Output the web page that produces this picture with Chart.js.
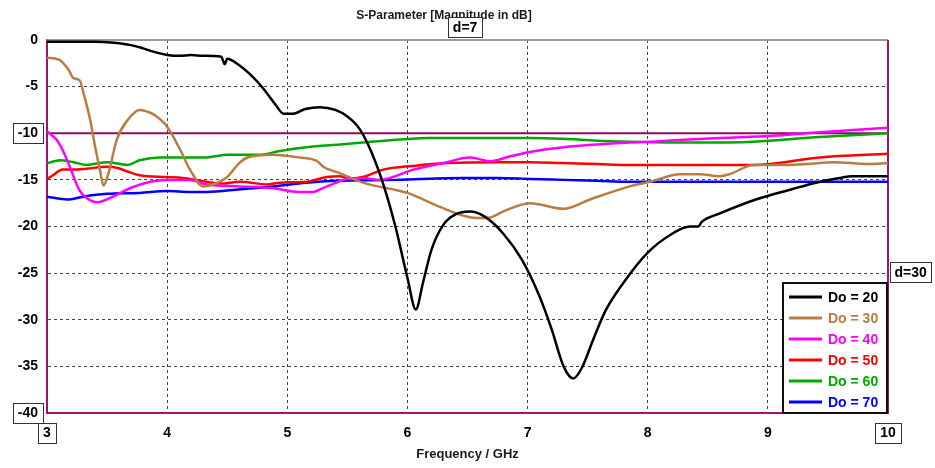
<!DOCTYPE html>
<html>
<head>
<meta charset="utf-8">
<title>S-Parameter</title>
<script src="https://cdn.jsdelivr.net/npm/chart.js"></script>
<style>
  html, body { margin: 0; padding: 0; background: #fff; }
  #sparam { display: block; }
</style>
</head>
<body>
<canvas id="sparam" width="935" height="468"></canvas>
<script>
// sweep results, |S11| in dB for each Do
const labels = ['Do = 20', 'Do = 30', 'Do = 40', 'Do = 50', 'Do = 60', 'Do = 70'];
const colors = ['#000000', '#b97d41', '#ff00ff', '#ff0000', '#00a800', '#0000ff'];

const freq20 = [3.0, 3.4, 3.5, 3.6, 3.7, 3.8, 3.9, 4.0, 4.1, 4.2, 4.3, 4.45, 4.48, 4.5, 4.6, 4.7, 4.8, 4.9, 4.97, 5.05, 5.15, 5.27, 5.4, 5.5, 5.6, 5.7, 5.8, 5.9, 6.0, 6.07, 6.13, 6.2, 6.3, 6.4, 6.52, 6.65, 6.8, 6.95, 7.1, 7.2, 7.3, 7.38, 7.45, 7.55, 7.65, 7.8, 8.0, 8.2, 8.35, 8.42, 8.45, 8.6, 8.9, 9.2, 9.4, 9.6, 9.7, 10.0];
const s20 = [-0.2, -0.2, -0.25, -0.35, -0.55, -0.9, -1.3, -1.6, -1.7, -1.6, -1.7, -1.8, -2.6, -2.0, -2.7, -3.8, -5.2, -6.9, -7.9, -7.9, -7.4, -7.2, -7.5, -8.2, -9.5, -12.0, -15.5, -20.0, -25.5, -28.9, -26.0, -22.5, -19.8, -18.7, -18.4, -19.0, -20.8, -23.5, -27.5, -31.0, -35.0, -36.3, -35.2, -32.0, -29.0, -26.0, -22.8, -20.8, -20.0, -20.0, -19.5, -18.6, -17.1, -16.0, -15.3, -14.8, -14.6, -14.6];

const freq30 = [3.0, 3.1, 3.18, 3.22, 3.27, 3.31, 3.36, 3.4, 3.44, 3.47, 3.52, 3.58, 3.67, 3.77, 3.86, 3.9, 4.0, 4.11, 4.19, 4.3, 4.38, 4.5, 4.6, 4.67, 4.88, 5.1, 5.25, 5.3, 5.44, 5.63, 6.0, 6.27, 6.52, 6.66, 6.83, 7.02, 7.3, 7.52, 7.85, 8.02, 8.27, 8.43, 8.6, 8.68, 8.88, 9.16, 9.33, 9.55, 9.83, 10.0];
const s30 = [-1.9, -2.1, -3.2, -4.1, -4.3, -6.0, -8.6, -11.4, -13.9, -15.6, -13.9, -10.7, -8.6, -7.5, -7.8, -8.1, -9.3, -11.8, -13.9, -15.7, -15.5, -14.7, -13.2, -12.6, -12.3, -12.6, -13.0, -13.6, -14.3, -15.3, -16.4, -17.9, -19.0, -19.1, -18.2, -17.5, -18.1, -17.1, -15.7, -15.2, -14.4, -14.4, -14.6, -14.4, -13.4, -13.4, -13.3, -13.1, -13.3, -13.2];

const freq40 = [3.0, 3.08, 3.13, 3.19, 3.27, 3.36, 3.42, 3.55, 3.69, 3.86, 4.0, 4.19, 4.33, 4.61, 4.88, 5.1, 5.21, 5.33, 5.5, 5.63, 5.77, 6.05, 6.3, 6.52, 6.69, 6.85, 7.02, 7.3, 7.58, 7.85, 8.04, 8.3, 8.6, 9.02, 9.43, 10.0];
const s40 = [-9.8, -10.7, -11.8, -13.6, -16.1, -17.2, -17.4, -16.8, -15.9, -15.2, -15.0, -15.0, -15.5, -15.7, -15.9, -16.3, -16.3, -15.7, -14.9, -14.8, -15.0, -13.9, -13.2, -12.6, -13.0, -12.5, -12.0, -11.5, -11.2, -11.0, -10.9, -10.7, -10.5, -10.3, -9.9, -9.4];

const freq50 = [3.0, 3.05, 3.13, 3.22, 3.33, 3.5, 3.58, 3.67, 3.77, 4.0, 4.13, 4.33, 4.44, 4.61, 4.83, 4.94, 5.16, 5.33, 5.44, 5.52, 5.63, 5.8, 6.05, 6.33, 6.75, 7.02, 7.3, 7.58, 7.85, 8.5, 8.88, 9.43, 10.0];
const s50 = [-14.9, -14.5, -13.9, -13.9, -13.8, -13.6, -13.7, -14.1, -14.5, -14.7, -14.8, -15.2, -15.4, -15.2, -15.5, -15.3, -15.2, -14.7, -14.6, -14.9, -14.7, -13.9, -13.5, -13.2, -13.1, -13.1, -13.2, -13.3, -13.4, -13.4, -13.4, -12.6, -12.2];

const freq60 = [3.0, 3.11, 3.22, 3.33, 3.5, 3.67, 3.77, 3.94, 4.19, 4.33, 4.5, 4.77, 4.94, 5.16, 5.44, 5.63, 5.91, 6.19, 7.02, 7.3, 7.58, 7.85, 8.38, 8.88, 9.43, 10.0];
const s60 = [-13.2, -12.9, -13.1, -13.4, -13.1, -13.4, -12.9, -12.6, -12.6, -12.6, -12.3, -12.3, -11.9, -11.5, -11.2, -11.0, -10.7, -10.5, -10.5, -10.6, -10.8, -10.9, -11.0, -10.9, -10.4, -10.0];

const freq70 = [3.0, 3.17, 3.3, 3.5, 3.77, 4.0, 4.19, 4.33, 4.61, 4.88, 5.16, 5.4, 5.91, 6.46, 6.75, 7.02, 7.3, 7.58, 7.85, 10.0];
const s70 = [-16.8, -17.1, -16.8, -16.5, -16.4, -16.2, -16.3, -16.3, -16.0, -15.7, -15.3, -15.1, -15.0, -14.8, -14.8, -14.9, -15.0, -15.1, -15.2, -15.2];

const freqs = [freq20, freq30, freq40, freq50, freq60, freq70];
const values = [s20, s30, s40, s50, s60, s70];

const refLevel = -10;               // -10 dB limit line
const xTicks = [3, 4, 5, 6, 7, 8, 9, 10];
const yTicks = [0, -5, -10, -15, -20, -25, -30, -35, -40];
const boxedX = [3, 10];
const boxedY = [-10, -40];
const markerText = ['d=7', 'd=30'];
const markerAt = [6.48, -24.85];     // x value for d=7, y value for d=30

const FONT = "'Liberation Sans', Arial, sans-serif";
const AXIS = '#a8106e';

function pts(f, v) {
  return f.map((x, i) => ({ x: x, y: v[i] }));
}

const datasets = labels.map((lab, i) => ({
  label: lab,
  data: pts(freqs[i], values[i]),
  borderColor: colors[i],
  borderWidth: 2.5,
  pointRadius: 0,
  fill: false,
  cubicInterpolationMode: 'monotone'
}));

// limit line goes under the curves
datasets.push({
  label: 'limit',
  data: [{ x: 3, y: refLevel }, { x: 10, y: refLevel }],
  borderColor: '#8f0a5f',
  borderWidth: 2,
  pointRadius: 0,
  fill: false,
  order: 10
});

// frame: grey top edge, purple right edge
const framePlugin = {
  id: 'frame',
  beforeDatasetsDraw(chart) {
    const a = chart.chartArea, c = chart.ctx;
    c.save();
    c.lineWidth = 2;
    c.strokeStyle = '#9a9a9a';
    c.beginPath(); c.moveTo(a.left, a.top); c.lineTo(a.right, a.top); c.stroke();
    c.strokeStyle = AXIS;
    c.beginPath(); c.moveTo(a.right, a.top); c.lineTo(a.right, a.bottom); c.stroke();
    c.restore();
  }
};

function boxText(c, txt, cx, cy, fill) {
  c.font = 'bold 14px ' + FONT;
  const w = c.measureText(txt).width + 9;
  const h = 20;
  if (fill) { c.fillStyle = '#fff'; c.fillRect(cx - w / 2, cy - h / 2, w, h); }
  c.strokeStyle = '#333';
  c.lineWidth = 1;
  c.strokeRect(Math.round(cx - w / 2) + 0.5, Math.round(cy - h / 2) + 0.5, Math.round(w), h);
  if (fill) {
    c.fillStyle = '#000';
    c.textAlign = 'center';
    c.textBaseline = 'middle';
    c.fillText(txt, cx, cy + 1);
  }
}

// boxed tick labels, marker tags and the legend panel
const extrasPlugin = {
  id: 'extras',
  afterDraw(chart) {
    const c = chart.ctx, a = chart.chartArea;
    const xs = chart.scales.x, ys = chart.scales.y;
    c.save();
    c.font = 'bold 14px ' + FONT;
    boxedY.forEach(v => {
      const y = ys.getPixelForValue(v);
      const w = c.measureText(String(v)).width;
      c.strokeStyle = '#333'; c.lineWidth = 1;
      c.strokeRect(Math.round(a.left - 9 - w - 5) + 0.5, Math.round(y - 10) + 0.5, Math.round(w + 10), 20);
    });
    boxedX.forEach(v => {
      const x = xs.getPixelForValue(v);
      const w = c.measureText(String(v)).width;
      c.strokeStyle = '#333'; c.lineWidth = 1;
      c.strokeRect(Math.round(x - w / 2 - 5) + 0.5, Math.round(a.bottom + 10) + 0.5, Math.round(w + 10), 20);
    });
    boxText(c, markerText[0], xs.getPixelForValue(markerAt[0]), a.top - 13, true);
    const w30 = c.measureText(markerText[1]).width + 9;
    boxText(c, markerText[1], a.right + 2 + w30 / 2, ys.getPixelForValue(markerAt[1]), true);

    // legend
    const lw = 104, lh = 130;
    const lx = a.right - lw - 1, ly = a.bottom - lh;
    c.fillStyle = '#fff';
    c.fillRect(lx, ly, lw, lh);
    c.strokeStyle = '#111';
    c.lineWidth = 2;
    c.strokeRect(lx, ly, lw, lh);
    c.textAlign = 'left';
    c.textBaseline = 'middle';
    labels.forEach((lab, i) => {
      const y = ly + 14 + i * 21;
      c.strokeStyle = colors[i];
      c.lineWidth = 3;
      c.beginPath(); c.moveTo(lx + 6, y); c.lineTo(lx + 39, y); c.stroke();
      c.fillStyle = colors[i];
      c.fillText(lab, lx + 45, y + 1);
    });
    c.restore();
  }
};

new Chart(document.getElementById('sparam'), {
  type: 'line',
  data: { datasets: datasets },
  plugins: [framePlugin, extrasPlugin],
  options: {
    responsive: false,
    animation: false,
    layout: { padding: { left: 0, right: 47, top: 0, bottom: 0 } },
    plugins: {
      legend: { display: false },
      tooltip: { enabled: false },
      title: {
        display: true,
        text: 'S-Parameter [Magnitude in dB]',
        color: '#1a1a1a',
        font: { family: FONT, size: 12, weight: 'bold', lineHeight: 1.2 },
        padding: { top: 8, bottom: 17.6 }
      }
    },
    scales: {
      x: {
        type: 'linear',
        min: 3, max: 10,
        afterFit(s) { s.height = 55; },
        afterBuildTicks(s) { s.ticks = xTicks.map(v => ({ value: v })); },
        ticks: { color: '#000', padding: 12, font: { family: FONT, size: 14, weight: 'bold' } },
        grid: { color: '#444', lineWidth: 1, drawTicks: false },
        border: { display: true, color: AXIS, width: 2, dash: [3, 3] },
        title: {
          display: true,
          text: 'Frequency / GHz',
          color: '#1a1a1a',
          font: { family: FONT, size: 13, weight: 'bold', lineHeight: 1.2 },
          padding: { top: 4, bottom: 6 }
        }
      },
      y: {
        min: -40, max: 0,
        afterFit(s) { s.width = 47; },
        afterBuildTicks(s) { s.ticks = yTicks.map(v => ({ value: v })); },
        ticks: { color: '#000', padding: 9, font: { family: FONT, size: 14, weight: 'bold' } },
        grid: { color: '#444', lineWidth: 1, drawTicks: false },
        border: { display: true, color: AXIS, width: 2, dash: [3, 3] }
      }
    }
  }
});
</script>
</body>
</html>
